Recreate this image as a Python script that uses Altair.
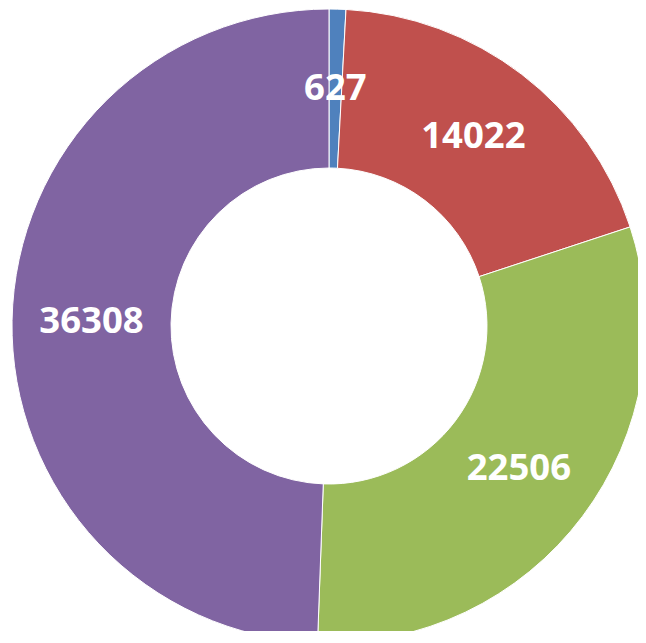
import altair as alt
import pandas as pd

categories = ["A", "B", "C", "D"]
values = [627, 14022, 22506, 36308]
colors = ["#4F81BD", "#C0504D", "#9BBB59", "#8064A2"]

df = pd.DataFrame({"cat": categories, "value": values, "order": [0, 1, 2, 3]})

cx, cy = 321, 318
base = alt.Chart(df).encode(
    theta=alt.Theta("value:Q", stack=True),
    order=alt.Order("order:Q"),
)

arcs = base.mark_arc(
    outerRadius=317, innerRadius=158, stroke="white", strokeWidth=1
).encode(
    color=alt.Color("cat:N", scale=alt.Scale(domain=categories, range=colors), legend=None),
    x=alt.value(cx),
    y=alt.value(cy),
)

labels = base.mark_text(
    radius=237.5, font="Open Sans", fontSize=36.5, fontWeight="bold", color="white"
).encode(
    text=alt.Text("value:Q", format="d"),
    x=alt.value(cx),
    y=alt.value(cy),
)

chart = (
    alt.layer(arcs, labels)
    .properties(width=630, height=623, padding=0, autosize=alt.AutoSizeParams(type="none"))
    .configure_view(stroke=None)
)

chart.save("out.html", embed_options={"renderer": "svg", "actions": False})
